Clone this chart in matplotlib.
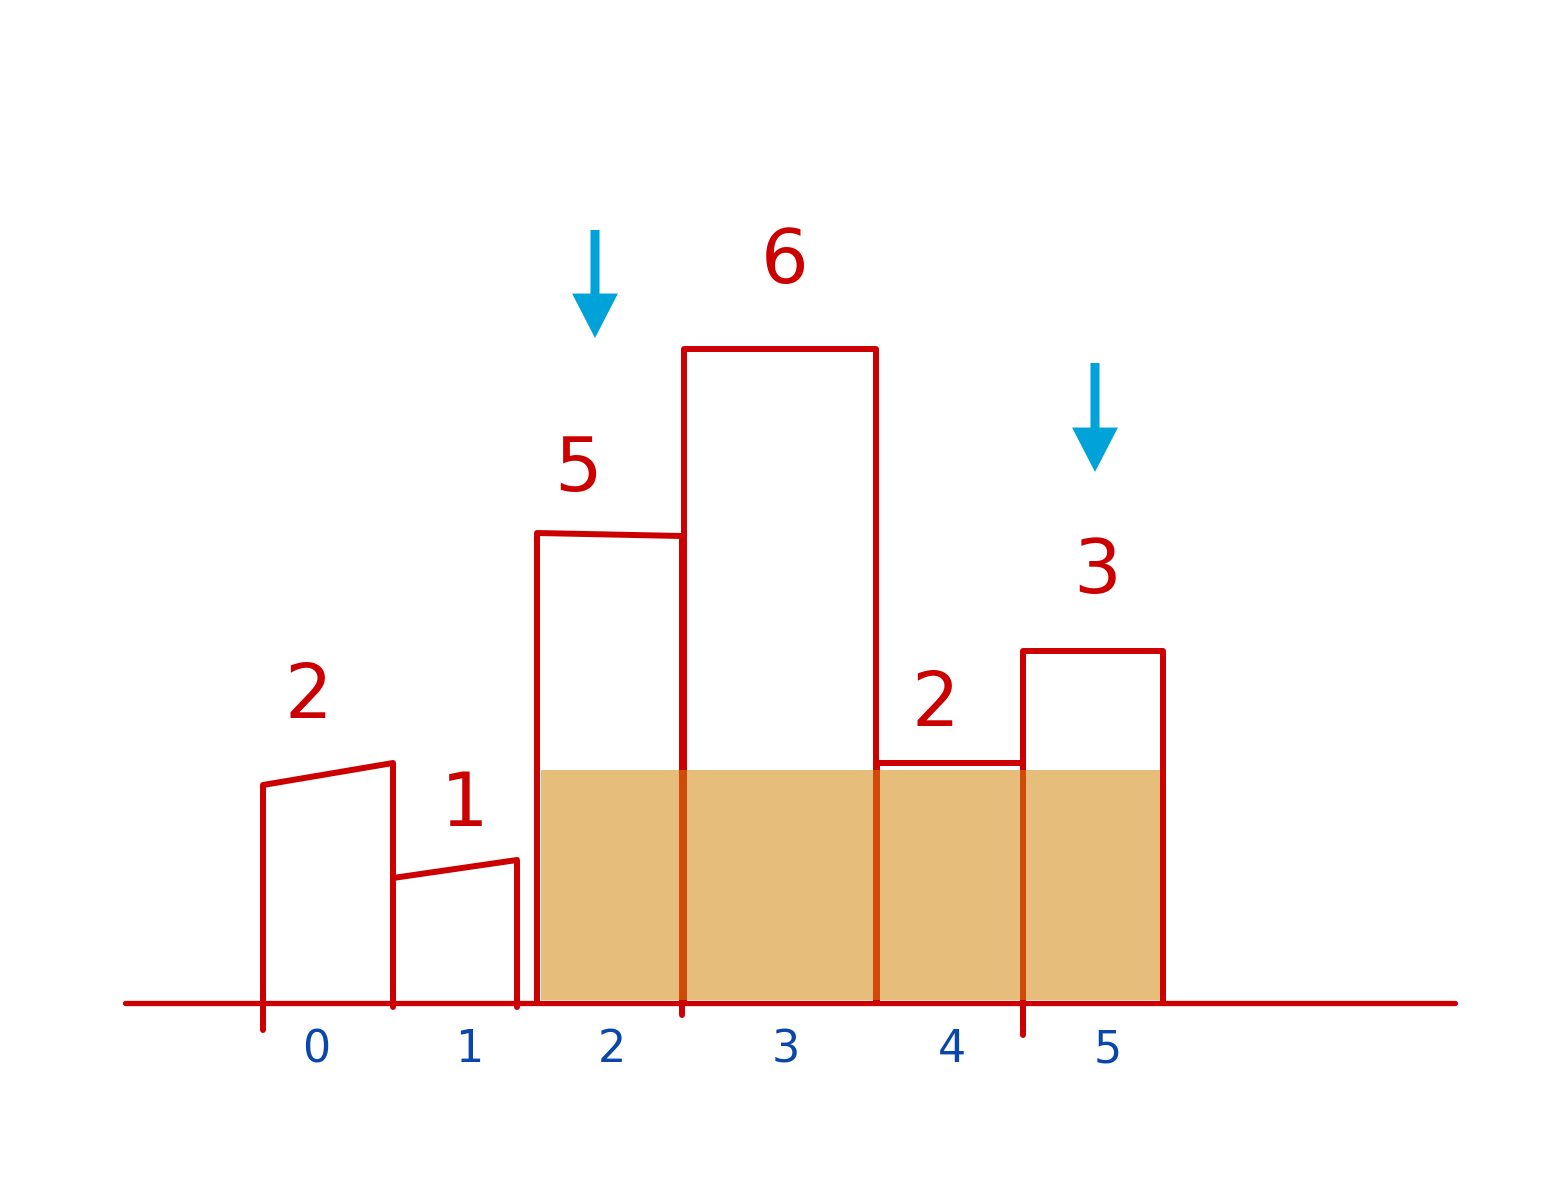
import matplotlib.pyplot as plt
from matplotlib.patches import Rectangle

# histogram as sketched (pixel-ish units, baseline at 0)
values = [2, 1, 5, 6, 2, 3]
index_labels = ["0", "1", "2", "3", "4", "5"]
lefts = [263, 393, 537, 684, 877, 1023]
rights = [393, 517, 682, 876, 1023, 1163]
top_left = [218, 125, 470, 654, 240, 352]
top_right = [240, 143, 467, 654, 240, 352]

# where the hand-written numbers sit
value_x = [308, 465, 578, 785, 935, 1097]
value_y = [306, 198, 533, 740, 298, 430]
index_x = [316, 469, 612, 786, 952, 1108]

# marks under the axis
tick_x = [263, 393, 517, 682, 1023]
tick_depth = [27, 4, 4, 12, 32]

# largest rectangle (bars 2..5, height 2)
fill_x0, fill_x1 = 541, 1160
fill_top = 233

# blue arrows: x, tail, tip
arrow_x = [595, 1095]
arrow_tail = [773, 640]
arrow_tip = [665, 531]

RED = "#cc0000"
BLUE = "#0b47aa"
CYAN = "#00a3d9"
LW = 4.3

fig = plt.figure(figsize=(15.61, 11.82), dpi=100)
ax = fig.add_axes([0, 0, 1, 1])
ax.set_xlim(0, 1561)
ax.set_ylim(-179, 1003)
ax.axis("off")

# baseline
ax.plot([125, 1455], [0, 0], color=RED, lw=3.8, solid_capstyle="round", zorder=2)

for i in range(len(values)):
    xs = [lefts[i], lefts[i], rights[i], rights[i]]
    ys = [0, top_left[i], top_right[i], 0]
    ax.plot(xs, ys, color=RED, lw=LW, solid_capstyle="round",
            solid_joinstyle="round", zorder=2)
    ax.text(value_x[i], value_y[i], str(values[i]), color=RED, fontsize=54,
            ha="center", va="center", zorder=4)
    ax.text(index_x[i], -47, index_labels[i], color=BLUE, fontsize=32,
            ha="center", va="center", zorder=4)

for x, d in zip(tick_x, tick_depth):
    ax.plot([x, x], [0, -d], color=RED, lw=LW, solid_capstyle="round", zorder=2)

ax.add_patch(Rectangle((fill_x0, 3), fill_x1 - fill_x0, fill_top - 3,
                       facecolor="#d58811", alpha=0.55, edgecolor="none", zorder=3))

for x, t0, t1 in zip(arrow_x, arrow_tail, arrow_tip):
    ax.annotate("", xy=(x, t1), xytext=(x, t0),
                arrowprops=dict(facecolor=CYAN, edgecolor="none", width=6.5,
                                headwidth=33, headlength=32, shrink=0))

fig.savefig("out.png", dpi=100)
